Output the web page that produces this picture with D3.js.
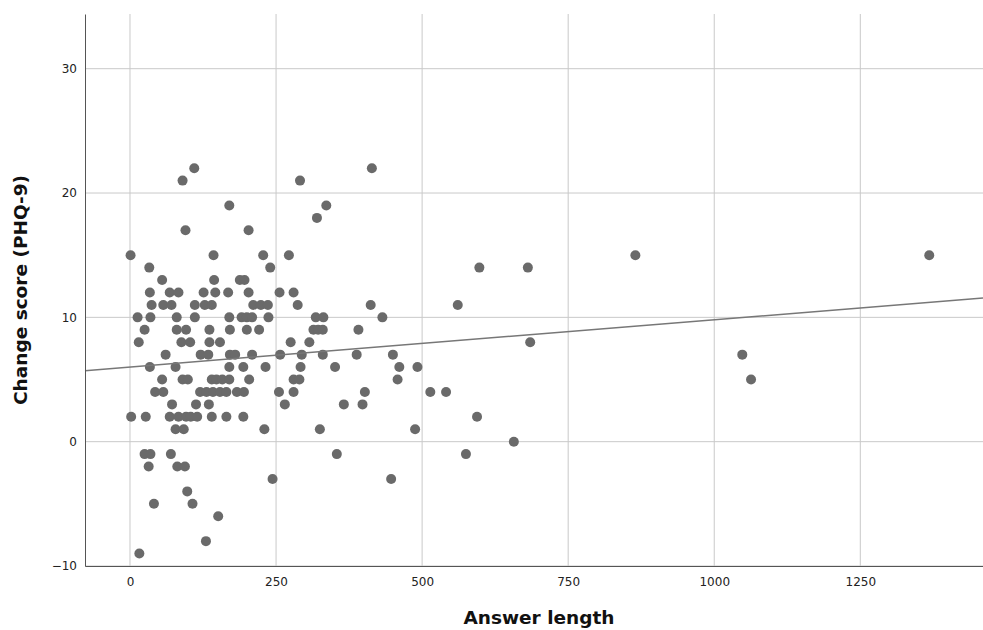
<html>
<head>
<meta charset="utf-8"/>
<title>Answer length vs change score</title>
<script src="https://cdn.jsdelivr.net/npm/d3@7"></script>
<style type="text/css">
  body { margin: 0; background: #fff; }
  .axis text { font-family: "DejaVu Sans", sans-serif; font-size: 12px; fill: #222; }
  .axis path { stroke: #555; }
  .grid line { stroke: #c9c9c9; }
  .title { font-family: "DejaVu Sans", sans-serif; font-weight: bold; font-size: 18.5px; fill: #111; }
</style>
</head>
<body>
<div id="chart"></div>
<script type="text/javascript">
// answer length (x) per change score (y)
var rows = [22, 21, 19, 18, 17, 15, 14, 13, 12, 11, 10, 9, 8, 7, 6, 5, 4, 3, 2, 1, 0, -1, -2, -3, -4, -5, -6, -8, -9];
var lengths = [
  [110, 414],
  [90, 291],
  [170, 336],
  [320],
  [95, 203],
  [1, 143, 228, 272, 865, 1368],
  [33, 240, 598, 681],
  [55, 144, 188, 196],
  [34, 68, 83, 126, 146, 168, 203, 256, 280],
  [37, 57, 71, 111, 128, 140, 211, 224, 236, 287, 412, 561],
  [13, 35, 80, 111, 170, 191, 200, 209, 237, 318, 331, 432],
  [25, 80, 96, 136, 171, 200, 221, 314, 322, 330, 391],
  [15, 88, 103, 136, 154, 275, 307, 685],
  [61, 121, 134, 171, 180, 209, 257, 294, 330, 388, 450, 1048],
  [34, 78, 170, 194, 232, 292, 351, 461, 492],
  [55, 90, 99, 140, 148, 158, 170, 204, 280, 290, 458, 1063],
  [43, 57, 120, 131, 142, 154, 165, 183, 195, 255, 280, 402, 514, 541],
  [72, 113, 135, 265, 366, 398],
  [2, 27, 68, 83, 96, 104, 115, 140, 165, 194, 594],
  [78, 92, 230, 325, 488],
  [657],
  [25, 35, 70, 354, 575],
  [32, 81, 94],
  [244, 447],
  [98],
  [41, 107],
  [151],
  [130],
  [16]
];
var xTicks = [0, 250, 500, 750, 1000, 1250];
var yTicks = [-10, 0, 10, 20, 30];
// fit line end points (x, y)
var fitX = [-77, 1460];
var fitY = [5.71, 11.55];

var points = [];
rows.forEach(function(r, i) {
  lengths[i].forEach(function(l) { points.push({x: l, y: r}); });
});

var w = 983, h = 630;
var padLeft = 85, padRight = 983, padTop = 14, padBottom = 566;

var xScale = d3.scaleLinear().domain([-77, 1460]).range([padLeft, padRight]);
var yScale = d3.scaleLinear().domain([-10, 34.4]).range([padBottom, padTop]);

var svg = d3.select("#chart").append("svg").attr("width", w).attr("height", h);

// gridlines
svg.append("g").attr("class", "grid")
  .selectAll("line").data(xTicks).enter().append("line")
  .attr("x1", function(d) { return xScale(d); }).attr("x2", function(d) { return xScale(d); })
  .attr("y1", padTop).attr("y2", padBottom);
svg.append("g").attr("class", "grid")
  .selectAll("line").data(yTicks).enter().append("line")
  .attr("x1", padLeft).attr("x2", padRight)
  .attr("y1", function(d) { return yScale(d); }).attr("y2", function(d) { return yScale(d); });

// points
svg.append("g").selectAll("circle")
  .data(points).enter().append("circle")
  .attr("cx", function(d) { return xScale(d.x); })
  .attr("cy", function(d) { return yScale(d.y); })
  .attr("r", 5)
  .style("fill", "#6a6a6a");

// fit line
svg.append("line")
  .attr("x1", xScale(fitX[0])).attr("y1", yScale(fitY[0]))
  .attr("x2", xScale(fitX[1])).attr("y2", yScale(fitY[1]))
  .style("stroke", "#777").style("stroke-width", 1.5);

// axes
var xAxis = d3.axisBottom(xScale).tickValues(xTicks).tickFormat(d3.format("d")).tickSize(0).tickPadding(11);
var yAxis = d3.axisLeft(yScale).tickValues(yTicks).tickFormat(d3.format("d")).tickSize(0).tickPadding(8);

svg.append("g").attr("class", "axis")
  .attr("transform", "translate(0," + padBottom + ")")
  .call(xAxis);
svg.append("g").attr("class", "axis")
  .attr("transform", "translate(" + padLeft + ",0)")
  .call(yAxis);

svg.append("text").attr("class", "title")
  .attr("text-anchor", "middle")
  .attr("x", 539).attr("y", 624)
  .text("Answer length");
svg.append("text").attr("class", "title")
  .attr("text-anchor", "middle")
  .attr("transform", "translate(27," + 290 + ") rotate(-90)")
  .text("Change score (PHQ-9)");
</script>
</body>
</html>
